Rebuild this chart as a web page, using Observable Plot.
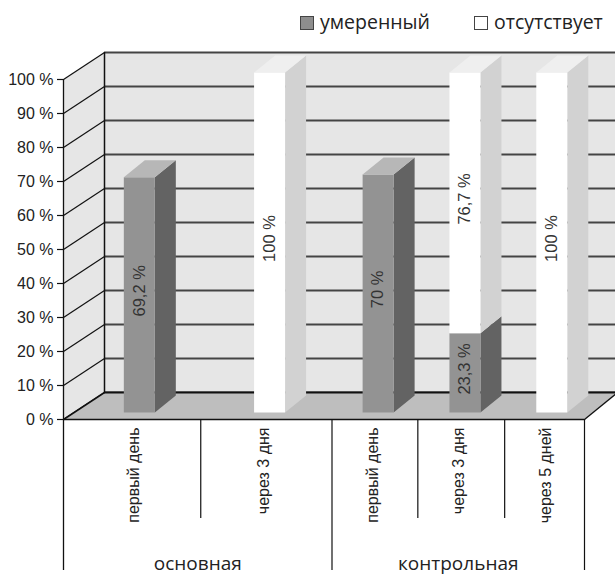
<!DOCTYPE html>
<html><head><meta charset="utf-8">
<script src="https://cdn.jsdelivr.net/npm/d3@7"></script>
<script src="https://cdn.jsdelivr.net/npm/@observablehq/plot@0.6"></script>
<style>
html,body{margin:0;padding:0;background:#fff;overflow:hidden;}
#wrap{position:relative;width:615px;height:575px;overflow:hidden;}
#legend{position:absolute;top:8px;left:300px;display:flex;align-items:center;font-family:"Open Sans",sans-serif;font-size:19.5px;color:#222;}
#legend .item{display:flex;align-items:center;margin-right:44px;}
#legend .sw{width:12px;height:12px;border:1px solid #444;margin-right:6px;margin-top:2px;}
#chart svg{display:block;}
</style></head><body>
<div id="wrap"><div id="chart"></div><div id="legend"></div></div>
<script>
// ---- data ----
const groups = ["основная", "контрольная"];
const categories = ["первый день", "через 3 дня", "первый день", "через 3 дня", "через 5 дней"];
const categoryGroups = ["основная", "основная", "контрольная", "контрольная", "контрольная"];
const seriesNames = ["умеренный", "отсутствует"];
const moderate = [69.2, 0, 70, 23.3, 0];   // умеренный
const absent   = [0, 100, 0, 76.7, 100];   // отсутствует
const yTicks = [0, 10, 20, 30, 40, 50, 60, 70, 80, 90, 100];

// ---- style / layout ----
const W = 615, H = 575;
const xRange = [63, 584], yRange = [419, 79];
const kx = (xRange[1] - xRange[0]) / groups.length;
const ky = (yRange[0] - yRange[1]) / 100;
const ux = p => p / kx;       // pixel offset -> x units
const uy = p => -p / ky;      // pixel offset (down +) -> y units
const wall = [41, -27];       // depth of walls (px)
const barShift = [10.7, -7];  // bar front plane (px)
const barW = 31;
const barDepth = [21, -17];
const palette = [
  {front: "#939393", side: "#636363", top: "#b7b7b7", legend: "#8e8e8e"},
  {front: "#ffffff", side: "#d2d2d2", top: "#efefef", legend: "#ffffff"}
];
const gmax = groups.length;
const wx = ux(wall[0]), wy = uy(wall[1]);

// ---- derived tables ----
const cats = categories.map((name, i) => {
  const g = categoryGroups[i];
  const gi = groups.indexOf(g);
  const members = categoryGroups.map((d, j) => j).filter(j => categoryGroups[j] === g);
  const si = members.indexOf(i), n = members.length;
  return {i, name, group: g, gi, si, n, cx: gi + (si + 0.5) / n};
});
const segs = [];
cats.forEach(c => {
  let base = 0;
  const vals = [moderate[c.i], absent[c.i]];
  const last = vals.reduce((a, v, k) => v > 0 ? k : a, -1);
  vals.forEach((v, s) => {
    if (v > 0) {
      const x1 = c.cx + ux(barShift[0] - barW / 2), x2 = c.cx + ux(barShift[0] + barW / 2);
      const yb = base + uy(barShift[1]), yt = base + v + uy(barShift[1]);
      segs.push({c, s, v, x1, x2, yb, yt, top: s === last});
      base += v;
    }
  });
});
const dX = ux(barDepth[0]), dY = uy(barDepth[1]);
const polys = [];
let pid = 0;
function poly(pts, fill) { const id = pid++; pts.forEach(([x, y]) => polys.push({id, x, y, fill})); }
segs.forEach(d => {
  const p = palette[d.s];
  poly([[d.x2, d.yb], [d.x2, d.yt], [d.x2 + dX, d.yt + dY], [d.x2 + dX, d.yb + dY]], p.side);
  poly([[d.x1, d.yb], [d.x2, d.yb], [d.x2, d.yt], [d.x1, d.yt]], p.front);
  if (d.top) poly([[d.x1, d.yt], [d.x2, d.yt], [d.x2 + dX, d.yt + dY], [d.x1 + dX, d.yt + dY]], p.top);
});
const xRight = gmax + ux(60);
const leftWall = [[0, 0], [wx, wy], [wx, 100 + wy], [0, 100]].map(([x, y]) => ({x, y}));
const floor = [[0, 0], [wx, wy], [gmax + ux(33), wy], [gmax, 0]].map(([x, y]) => ({x, y}));
const subDividers = [];
cats.forEach(c => { if (c.si > 0) subDividers.push(c.gi + c.si / c.n); });
const innerGroupDividers = groups.slice(1).map((g, i) => i + 1);
const fmt = v => String(v).replace(".", ",") + " %";
const sans = "Liberation Sans, Arial, sans-serif";
const humanist = "Open Sans, sans-serif";

const chart = Plot.plot({
  width: W, height: H,
  x: {domain: [0, gmax], range: xRange, axis: null},
  y: {domain: [0, 100], range: yRange, axis: null},
  color: {type: "identity"},
  style: {fontFamily: sans, background: "#fff", overflow: "hidden"},
  marks: [
    // back wall
    Plot.rect([0], {x1: wx, x2: xRight, y1: wy, y2: 100 + wy, fill: "#e6e6e6"}),
    Plot.ruleY(yTicks, {y: d => d + wy, x1: wx, x2: xRight, stroke: "#444", strokeWidth: 2}),
    // left wall
    Plot.line(leftWall, {x: "x", y: "y", fill: "#e6e6e6", stroke: null, curve: "linear-closed"}),
    Plot.link(yTicks, {x1: 0, y1: d => d, x2: wx, y2: d => d + wy, stroke: "#111", strokeWidth: 1.2}),
    Plot.ruleX([wx], {y1: wy, y2: 100 + wy, stroke: "#111", strokeWidth: 1.5}),
    // floor
    Plot.line(floor, {x: "x", y: "y", fill: "#bebebe", stroke: null, curve: "linear-closed"}),
    Plot.ruleY([0], {y: d => d + wy, x1: wx, x2: xRight, stroke: "#111", strokeWidth: 2}),
    Plot.link([0], {x1: 0, y1: 0, x2: wx, y2: wy, stroke: "#111", strokeWidth: 1.5}),
    Plot.link([0], {x1: gmax, y1: 0, x2: gmax + ux(33), y2: wy, stroke: "#111", strokeWidth: 1.3}),
    Plot.ruleY([0], {x1: 0, x2: gmax, stroke: "#111", strokeWidth: 1.5}),
    // axis
    Plot.ruleX([0], {y1: uy(151), y2: 100, stroke: "#111", strokeWidth: 1.3}),
    Plot.ruleY(yTicks, {x1: ux(-6), x2: 0, stroke: "#111", strokeWidth: 1.2}),
    Plot.text(yTicks, {x: 0, y: d => d, text: d => `${d} %`, textAnchor: "end", dx: -10, fontSize: 16, fill: "#222"}),
    // category dividers
    Plot.ruleX(subDividers, {y1: 0, y2: uy(99), dx: 7, stroke: "#111", strokeWidth: 1.2}),
    Plot.ruleX(innerGroupDividers, {y1: 0, y2: uy(151), dx: 8, stroke: "#111", strokeWidth: 1.2}),
    Plot.ruleX([gmax], {y1: 0, y2: uy(151), stroke: "#111", strokeWidth: 1.2}),
    Plot.text(cats, {x: "cx", y: 0, dx: 5, dy: 8, text: "name", rotate: -90, textAnchor: "end", lineAnchor: "middle", fontSize: 16, fill: "#222"}),
    Plot.text(groups, {x: (d, i) => i + 0.5, y: uy(144), dx: 4, text: d => d, fontFamily: humanist, fontSize: 19, fill: "#222", lineAnchor: "middle"}),
    // bars
    Plot.line(polys, {x: "x", y: "y", z: "id", fill: "fill", stroke: null, curve: "linear-closed"}),
    Plot.text(segs, {x: d => (d.x1 + d.x2) / 2, y: d => (d.yb + d.yt) / 2, dy: -4, text: d => fmt(d.v), rotate: -90, fontSize: 16.5, fill: "#333"})
  ]
});
document.getElementById("chart").append(chart);

const legend = document.getElementById("legend");
seriesNames.forEach((name, s) => {
  const item = document.createElement("div");
  item.className = "item";
  const sw = document.createElement("div");
  sw.className = "sw";
  sw.style.background = palette[s].legend;
  const t = document.createElement("span");
  t.textContent = name;
  item.append(sw, t);
  legend.append(item);
});
</script>
</body></html>
